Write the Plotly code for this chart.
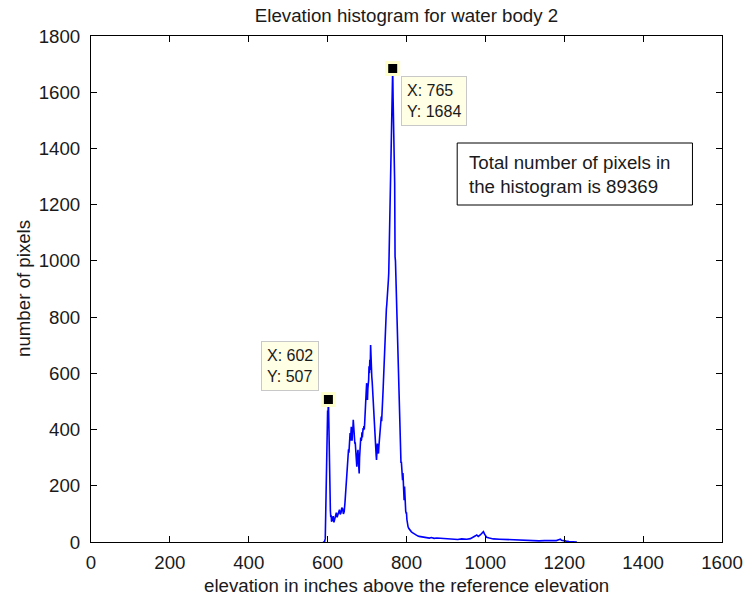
import plotly.graph_objects as go

# ---- data (elevation in inches, pixel counts) ----
elev = [588, 592, 594, 595, 596, 597, 598, 599, 600, 601, 602, 603, 604, 605, 606, 607, 608, 609, 610,
        612, 614, 616, 618, 620, 622, 624, 626, 628, 630, 632, 634, 636, 638, 640, 642, 644, 645, 646,
        647, 648, 649, 650, 651, 652, 653, 654, 655, 656, 657, 658, 659, 660, 661, 662, 663, 664, 665,
        666, 667, 668, 669, 670, 671, 672, 673, 674, 675, 676, 677, 678, 679, 680, 681, 682, 683, 684,
        685, 686, 687, 688, 689, 690, 691, 692, 693, 694, 695, 696, 697, 698, 699, 700, 701, 702, 703,
        704, 705, 706, 707, 708, 709, 710, 711, 712, 713, 714, 715, 716, 717, 718, 719, 720, 721, 722,
        723, 724, 725, 726, 727, 728, 729, 730, 731, 732, 733, 734, 735, 736, 737, 738, 739, 740, 741,
        742, 743, 744, 745, 746, 747, 748, 749, 750, 751, 752, 753, 754, 755, 756, 757, 758, 759, 760,
        761, 762, 763, 764, 765, 766, 767, 768, 769, 770, 771, 772, 773, 774, 775, 776, 777, 778, 779,
        780, 781, 782, 783, 784, 785, 786, 787, 788, 789, 790, 791, 792, 793, 794, 795, 796, 797, 798,
        799, 800, 801, 802, 803, 804, 806, 808, 810, 812, 815, 818, 820, 824, 828, 832, 837, 842, 847,
        853, 858, 863, 870, 877, 887, 895, 903, 912, 920, 930, 940, 953, 962, 970, 975, 978, 982, 987,
        991, 995, 998, 1003, 1010, 1020, 1036, 1050, 1070, 1085, 1103, 1120, 1136, 1150, 1170, 1180,
        1186, 1190, 1193, 1198, 1205, 1212, 1220, 1228, 1232]
counts = [0, 0, 12, 95, 200, 310, 392, 440, 468, 455, 507, 430, 300, 190, 128, 110, 88, 95, 72,
          85, 92, 70, 80, 96, 104, 88, 98, 110, 115, 98, 104, 122, 118, 100, 108, 140, 165, 200,
          222, 240, 258, 270, 290, 305, 330, 318, 352, 372, 388, 360, 395, 410, 380, 360, 392, 400, 435,
          398, 412, 380, 350, 355, 320, 295, 280, 268, 300, 320, 328, 290, 262, 244, 300, 350, 340, 372,
          360, 365, 390, 372, 388, 405, 398, 412, 400, 425, 470, 505, 495, 540, 565, 520, 505, 545, 560,
          576, 625, 600, 648, 612, 701, 625, 600, 588, 570, 540, 505, 470, 482, 440, 422, 390, 360, 339,
          310, 292, 330, 350, 335, 320, 315, 340, 362, 390, 420, 410, 440, 446, 430, 450, 470, 520, 552,
          590, 624, 707, 740, 766, 813, 800, 830, 845, 861, 880, 905, 930, 957, 1040, 1080, 1122, 1200, 1241,
          1330, 1430, 1500, 1561, 1684, 1580, 1490, 1335, 1300, 1277, 1015, 1000, 950, 896, 861, 790, 740, 700, 683,
          620, 541, 470, 387, 390, 320, 281, 285, 260, 240, 220, 245, 200, 180, 149, 197, 140, 120, 110,
          103, 103, 80, 68, 60, 54, 48, 43, 40, 37, 33, 30, 28, 24, 22, 20, 19, 17, 18,
          15, 14, 16, 13, 14, 13, 11, 12, 10, 10, 9, 11, 10, 12, 17, 22, 25, 20, 25,
          30, 37, 28, 17, 14, 11, 10, 9, 8, 7, 6, 5, 4, 5, 4, 5,
          8, 10, 6, 4, 3, 2, 1, 1, 0]

tip_x = [602, 765]
tip_y = [507, 1684]

x_ticks = [0, 200, 400, 600, 800, 1000, 1200, 1400, 1600]
y_ticks = [0, 200, 400, 600, 800, 1000, 1200, 1400, 1600, 1800]

title_text = "Elevation histogram for water body 2"
x_label = "elevation in inches above the reference elevation"
y_label = "number of pixels"
total_pixels = 89369

FONT = "Liberation Sans, Arial, sans-serif"
FS = 18.7

fig = go.Figure()
fig.add_trace(go.Scatter(x=elev, y=counts, mode="lines",
                         line=dict(color="#0000FF", width=1.6), hoverinfo="skip"))
fig.add_trace(go.Scatter(x=tip_x, y=tip_y, mode="markers",
                         marker=dict(symbol="square", size=12, color="black",
                                     line=dict(color="#FFFFCC", width=3)),
                         hoverinfo="skip"))

axis_common = dict(showline=True, linecolor="black", linewidth=1, mirror="ticks",
                   ticks="inside", ticklen=6, tickcolor="black", tickwidth=1,
                   showgrid=False, zeroline=False,
                   tickfont=dict(family=FONT, size=FS, color="#1a1a1a"))

fig.update_layout(
    width=755, height=598,
    margin=dict(l=91, r=23, t=36, b=56),
    paper_bgcolor="white", plot_bgcolor="white",
    showlegend=False,
    title=dict(text=title_text, x=0.5, xanchor="center", xref="paper",
               y=1 - 15 / 598, yanchor="middle",
               font=dict(family=FONT, size=FS, color="#1a1a1a")),
    xaxis=dict(range=[0, 1600], tickvals=x_ticks, ticklabelstandoff=4, **axis_common),
    yaxis=dict(range=[0, 1800], tickvals=y_ticks, ticklabelstandoff=6, **axis_common),
)

# axis labels
fig.add_annotation(text=x_label, xref="paper", yref="paper", x=0.5, y=0,
                   xanchor="center", yanchor="middle", yshift=-43, showarrow=False,
                   font=dict(family=FONT, size=FS, color="#1a1a1a"))
fig.add_annotation(text=y_label, xref="paper", yref="paper", x=0, y=0.5,
                   xanchor="center", yanchor="middle", xshift=-68, textangle=-90,
                   showarrow=False, font=dict(family=FONT, size=FS, color="#1a1a1a"))

# data tips
fig.add_annotation(text=f"X: {tip_x[1]}<br>Y: {tip_y[1]}", xref="x", yref="y",
                   x=tip_x[1], y=tip_y[1], xanchor="left", yanchor="top",
                   xshift=8, yshift=-7, showarrow=False, align="left",
                   bgcolor="#FFFFE6", bordercolor="#C8C8C8", borderwidth=1, borderpad=5,
                   font=dict(family=FONT, size=16, color="#1a1a1a"))
fig.add_annotation(text=f"X: {tip_x[0]}<br>Y: {tip_y[0]}", xref="x", yref="y",
                   x=tip_x[0], y=tip_y[0], xanchor="right", yanchor="bottom",
                   xshift=-9, yshift=8, showarrow=False, align="left",
                   bgcolor="#FFFFE6", bordercolor="#C8C8C8", borderwidth=1, borderpad=5,
                   font=dict(family=FONT, size=16, color="#1a1a1a"))

# text box
fig.add_shape(type="rect", xref="paper", yref="paper",
              x0=(463 - 91) / 641, x1=(702 - 91) / 641,
              y0=(542 - 205) / 506, y1=(542 - 143) / 506,
              line=dict(color="black", width=1), fillcolor="white", layer="above")
fig.add_annotation(text=f"Total number of pixels in<br>the histogram is {total_pixels}",
                   xref="paper", yref="paper", x=(473 - 91) / 641, y=(542 - 174) / 506,
                   xanchor="left", yanchor="middle", showarrow=False, align="left",
                   font=dict(family=FONT, size=FS, color="#1a1a1a"))

fig.write_html("out.html")
